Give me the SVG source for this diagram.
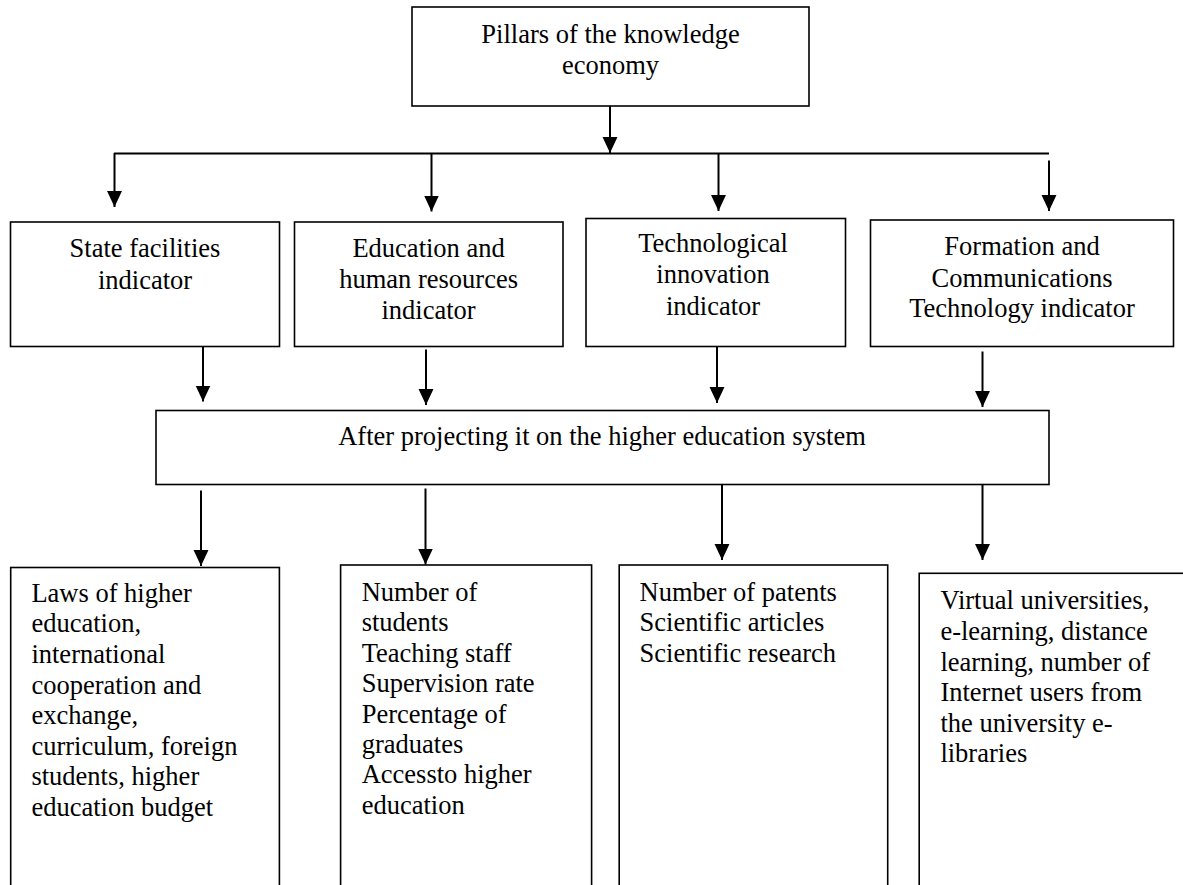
<svg xmlns="http://www.w3.org/2000/svg" width="1183" height="885" viewBox="0 0 1183 885">
<style>
.box{fill:#fff;stroke:#000;stroke-width:1.6}
text{font-family:'Liberation Serif','Times New Roman','DejaVu Serif',serif;font-size:26.5px;fill:#000}
.c{text-anchor:middle}
.ln{stroke:#000;stroke-width:2;fill:none}
.arr{stroke:#000;stroke-width:2;fill:none;marker-end:url(#ah)}
</style>
<defs>
<marker id="ah" markerUnits="userSpaceOnUse" markerWidth="16" markerHeight="16" viewBox="0 0 15 14" refX="15" refY="7" orient="auto">
<path d="M0,0 L15,7 L0,14 z" fill="#000"/>
</marker>
</defs>
<rect width="1183" height="885" fill="#fff"/>
<g id="connectors">
<line class="arr" x1="610" y1="106" x2="610" y2="153"/>
<line class="ln" x1="114" y1="153.5" x2="1049" y2="153.5" stroke-width="1.6"/>
<line class="arr" x1="114.5" y1="153" x2="114.5" y2="207"/>
<line class="arr" x1="431.5" y1="154" x2="431.5" y2="211.5"/>
<line class="arr" x1="718.5" y1="154" x2="718.5" y2="211"/>
<line class="arr" x1="1049" y1="160.5" x2="1049" y2="211"/>
<line class="arr" x1="203" y1="346" x2="203" y2="401.5"/>
<line class="arr" x1="426" y1="349.5" x2="426" y2="405"/>
<line class="arr" x1="717" y1="346" x2="717" y2="403"/>
<line class="arr" x1="982.5" y1="351.5" x2="982.5" y2="407"/>
<line class="arr" x1="201" y1="490.5" x2="201" y2="566"/>
<line class="arr" x1="425.5" y1="488.5" x2="425.5" y2="564.5"/>
<line class="arr" x1="722" y1="484" x2="722" y2="560"/>
<line class="arr" x1="982.5" y1="484" x2="982.5" y2="560"/>
</g>
<g id="pillars">
<rect class="box" x="412" y="7" width="397" height="99"/>
<text class="c" x="610.5" y="43" font-family="Liberation Serif, serif">Pillars of the knowledge</text>
<text class="c" x="610.5" y="74" font-family="Liberation Serif, serif">economy</text>
</g>
<g id="state">
<rect class="box" x="10.5" y="222" width="269" height="124.5"/>
<text class="c" x="145" y="257">State facilities</text>
<text class="c" x="145" y="289">indicator</text>
</g>
<g id="education">
<rect class="box" x="294.5" y="222" width="268.5" height="124.5"/>
<text class="c" x="428.6" y="257.3">Education and</text>
<text class="c" x="428.6" y="288.3">human resources</text>
<text class="c" x="428.6" y="318.8">indicator</text>
</g>
<g id="technological">
<rect class="box" x="586" y="218.5" width="259.5" height="128"/>
<text class="c" x="713" y="251.7">Technological</text>
<text class="c" x="713" y="283.3">innovation</text>
<text class="c" x="713" y="315">indicator</text>
</g>
<g id="formation">
<rect class="box" x="870.5" y="220" width="303" height="126.5"/>
<text class="c" x="1022" y="255">Formation and</text>
<text class="c" x="1022" y="286.7">Communications</text>
<text class="c" x="1022" y="316.7">Technology indicator</text>
</g>
<g id="projection">
<rect class="box" x="156" y="410.5" width="893" height="74"/>
<text class="c" x="602" y="445">After projecting it on the higher education system</text>
</g>
<g id="laws">
<rect class="box" x="10.7" y="567.5" width="268.7" height="340"/>
<text x="31.4" y="601.7">Laws of higher</text>
<text x="31.4" y="632.3">education,</text>
<text x="31.4" y="662.9">international</text>
<text x="31.4" y="693.5">cooperation and</text>
<text x="31.4" y="724.1">exchange,</text>
<text x="31.4" y="754.7">curriculum, foreign</text>
<text x="31.4" y="785.3">students, higher</text>
<text x="31.4" y="815.9">education budget</text>
</g>
<g id="students">
<rect class="box" x="340.6" y="565" width="251" height="340"/>
<text x="361.7" y="601">Number of</text>
<text x="361.7" y="631.4">students</text>
<text x="361.7" y="661.8">Teaching staff</text>
<text x="361.7" y="692.2">Supervision rate</text>
<text x="361.7" y="722.6">Percentage of</text>
<text x="361.7" y="753">graduates</text>
<text x="361.7" y="783.4">Accessto higher</text>
<text x="361.7" y="813.8">education</text>
</g>
<g id="patents">
<rect class="box" x="619.2" y="565" width="268.5" height="340"/>
<text x="639.6" y="601">Number of patents</text>
<text x="639.6" y="631.4">Scientific articles</text>
<text x="639.6" y="661.8">Scientific research</text>
</g>
<g id="virtual">
<rect class="box" x="919.2" y="573.3" width="290" height="340"/>
<text x="940.4" y="609.3">Virtual universities,</text>
<text x="940.4" y="639.9">e-learning, distance</text>
<text x="940.4" y="670.5">learning, number of</text>
<text x="940.4" y="701.1">Internet users from</text>
<text x="940.4" y="731.7">the university e-</text>
<text x="940.4" y="762.3">libraries</text>
</g>
</svg>
